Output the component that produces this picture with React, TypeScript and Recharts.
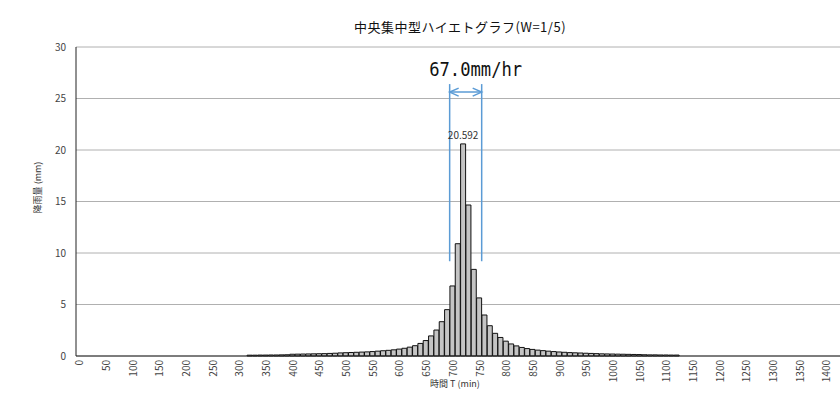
import React from 'react';
import { BarChart, Bar, XAxis, YAxis, CartesianGrid, ReferenceArea, LabelList } from 'recharts';

const TITLE = '中央集中型ハイエトグラフ(W=1/5)';
const Y_LABEL = '降雨量 (mm)';
const X_LABEL = '時間 T  (min)';
const WINDOW_LABEL = '67.0mm/hr';
const WINDOW_FROM = 700;
const WINDOW_TO = 750;
const WINDOW_Y_LOW = 9.2;
const WINDOW_Y_HIGH = 26.4;
const PEAK_VALUE = 20.592;

const TIMES = [
  0, 10, 20, 30, 40, 50, 60, 70, 80, 90,
  100, 110, 120, 130, 140, 150, 160, 170, 180, 190,
  200, 210, 220, 230, 240, 250, 260, 270, 280, 290,
  300, 310, 320, 330, 340, 350, 360, 370, 380, 390,
  400, 410, 420, 430, 440, 450, 460, 470, 480, 490,
  500, 510, 520, 530, 540, 550, 560, 570, 580, 590,
  600, 610, 620, 630, 640, 650, 660, 670, 680, 690,
  700, 710, 720, 730, 740, 750, 760, 770, 780, 790,
  800, 810, 820, 830, 840, 850, 860, 870, 880, 890,
  900, 910, 920, 930, 940, 950, 960, 970, 980, 990,
  1000, 1010, 1020, 1030, 1040, 1050, 1060, 1070, 1080, 1090,
  1100, 1110, 1120, 1130, 1140, 1150, 1160, 1170, 1180, 1190,
  1200, 1210, 1220, 1230, 1240, 1250, 1260, 1270, 1280, 1290,
  1300, 1310, 1320, 1330, 1340, 1350, 1360, 1370, 1380, 1390,
  1400, 1410, 1420, 1430, 1440,
];

const RAIN = [
  0, 0, 0, 0, 0, 0, 0, 0, 0, 0,
  0, 0, 0, 0, 0, 0, 0, 0, 0, 0,
  0, 0, 0, 0, 0, 0, 0, 0, 0, 0,
  0, 0, 0.08, 0.08, 0.09, 0.09, 0.10, 0.10, 0.11, 0.12,
  0.17, 0.18, 0.19, 0.20, 0.21, 0.22, 0.23, 0.25, 0.27, 0.30,
  0.32, 0.34, 0.36, 0.38, 0.40, 0.43, 0.47, 0.51, 0.55, 0.60,
  0.67, 0.75, 0.86, 1.00, 1.22, 1.50, 1.95, 2.52, 3.33, 4.50,
  6.80, 10.90, 20.592, 14.66, 8.41, 5.64, 3.98, 2.94, 2.20, 1.80,
  1.44, 1.17, 0.98, 0.83, 0.72, 0.64, 0.57, 0.52, 0.47, 0.43,
  0.39, 0.36, 0.33, 0.31, 0.29, 0.27, 0.25, 0.23, 0.21, 0.20,
  0.19, 0.18, 0.17, 0.16, 0.15, 0.14, 0.12, 0.11, 0.11, 0.10,
  0.10, 0.09, 0.09, 0, 0, 0, 0, 0, 0, 0,
  0, 0, 0, 0, 0, 0, 0, 0, 0, 0,
  0, 0, 0, 0, 0, 0, 0, 0, 0, 0,
  0, 0, 0, 0, 0,
];

const Y_TICKS = [0, 5, 10, 15, 20, 25, 30];

const data = TIMES.map((t, i) => ({ t, rain: RAIN[i] }));

const JP = '"Noto Sans CJK JP", "Noto Sans", sans-serif';

const XTick = (props: any) => {
  const { x, y, payload } = props;
  const ty = y - 4;
  return (
    <text
      x={x}
      y={ty}
      transform={`rotate(-90 ${x} ${ty})`}
      textAnchor="end"
      dominantBaseline="central"
      fontSize={10}
      fontFamily={JP}
      fill="#444"
    >
      {payload.value}
    </text>
  );
};

const YLabel = (props: any) => {
  const vb = props.viewBox || { x: 0, y: 0, width: 0, height: 0 };
  const cx = vb.x + 37;
  const cy = vb.y + vb.height / 2 - 14;
  return (
    <text
      x={cx}
      y={cy}
      transform={`rotate(-90 ${cx} ${cy})`}
      textAnchor="middle"
      dominantBaseline="central"
      fontSize={9}
      fontFamily={JP}
      fill="#333"
    >
      {Y_LABEL}
    </text>
  );
};

const XLabel = (props: any) => {
  const vb = props.viewBox || { x: 0, y: 0, width: 0, height: 0 };
  const cx = vb.x + vb.width / 2 - 8;
  const cy = vb.y + 27;
  return (
    <text x={cx} y={cy} textAnchor="middle" dominantBaseline="central" fontSize={9} fontFamily={JP} fill="#333">
      {X_LABEL}
    </text>
  );
};

const PeakLabel = (props: any) => {
  const { x, y, width, value } = props;
  if (value !== PEAK_VALUE) return null;
  return (
    <text x={x + width / 2} y={y - 5} textAnchor="middle" fontSize={10} fontFamily={JP} fill="#333">
      {value}
    </text>
  );
};

const Bracket = (props: any) => {
  const { x, y, width, height } = props;
  const ay = y + 8;
  return (
    <g>
      <g stroke="#5b9bd5" strokeWidth={1.5} fill="none">
        <line x1={x} y1={y} x2={x} y2={y + height} />
        <line x1={x + width} y1={y} x2={x + width} y2={y + height} />
        <line x1={x} y1={ay} x2={x + width} y2={ay} />
        <polyline points={`${x + 9},${ay - 4} ${x},${ay} ${x + 9},${ay + 4}`} />
        <polyline points={`${x + width - 9},${ay - 4} ${x + width},${ay} ${x + width - 9},${ay + 4}`} />
      </g>
      <text
        x={x + width / 2 + 10}
        y={y - 8}
        textAnchor="middle"
        fontSize={19}
        fontFamily='"DejaVu Sans Mono", "Liberation Mono", monospace'
        textLength={93}
        lengthAdjust="spacingAndGlyphs"
        fill="#111"
      >
        {WINDOW_LABEL}
      </text>
    </g>
  );
};

export default function App() {
  return (
    <div
      style={{
        position: 'absolute',
        left: 0,
        top: 0,
        width: 840,
        height: 406,
        overflow: 'hidden',
        background: '#fff',
      }}
    >
      <div
        style={{
          position: 'absolute',
          left: 0,
          top: 19,
          width: 920,
          textAlign: 'center',
          fontFamily: JP,
          fontSize: 13,
          lineHeight: '16px',
          color: '#111',
          letterSpacing: 0.5,
        }}
      >
        {TITLE}
      </div>
      <div style={{ position: 'absolute', left: 0, top: 0 }}>
        <BarChart
          width={852}
          height={406}
          data={data}
          margin={{ top: 47, right: 2, bottom: 0, left: 0 }}
          barCategoryGap="5%"
        >
          <CartesianGrid vertical={false} horizontal stroke="#b0b0b0" />
          <XAxis
            dataKey="t"
            type="category"
            interval={4}
            tickLine={false}
            axisLine={{ stroke: '#222' }}
            height={50}
            tick={<XTick />}
            label={{ content: XLabel } as any}
          />
          <YAxis
            domain={[0, 30]}
            ticks={Y_TICKS}
            width={76}
            tickLine={false}
            tickSize={8}
            tickMargin={2}
            axisLine={{ stroke: '#222' }}
            tick={{ fontSize: 10, fill: '#444', fontFamily: JP }}
            label={{ content: YLabel } as any}
          />
          <Bar dataKey="rain" fill="#c4c4c4" stroke="#111" strokeWidth={1} isAnimationActive={false}>
            <LabelList dataKey="rain" content={PeakLabel} />
          </Bar>
          <ReferenceArea
            x1={WINDOW_FROM}
            x2={WINDOW_TO}
            y1={WINDOW_Y_LOW}
            y2={WINDOW_Y_HIGH}
            shape={Bracket}
            ifOverflow="visible"
          />
        </BarChart>
      </div>
    </div>
  );
}
